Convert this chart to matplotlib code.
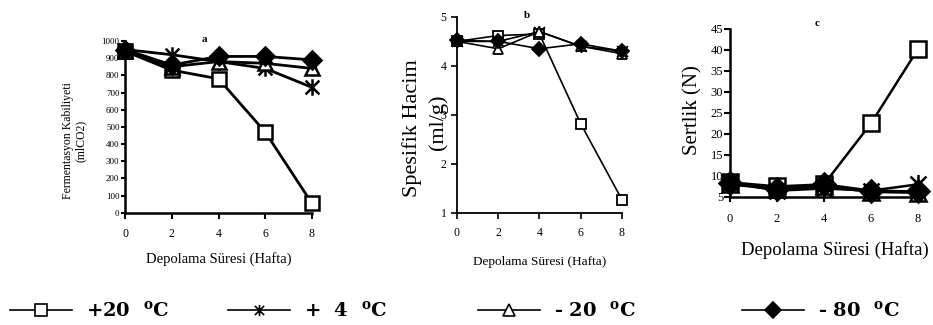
import numpy as np
import matplotlib
matplotlib.use("Agg")
import matplotlib.pyplot as plt
from matplotlib.path import Path
from matplotlib.lines import Line2D

plt.rcParams["font.family"] = ["Liberation Serif", "DejaVu Serif"]
plt.rcParams["mathtext.fontset"] = "custom"
plt.rcParams["mathtext.rm"] = "DejaVu Serif"
plt.rcParams["mathtext.bf"] = "DejaVu Serif:bold"

# --- data ---
weeks = [0, 2, 4, 6, 8]
labels = ["+20  $^{\\mathbf{o}}$C", "+  4  $^{\\mathbf{o}}$C", "- 20  $^{\\mathbf{o}}$C", "- 80  $^{\\mathbf{o}}$C"]

# a: Fermentasyon Kabiliyeti (mlCO2)
ferm_p20 = [940, 830, 780, 470, 55]
ferm_p4 = [950, 920, 880, 840, 730]
ferm_m20 = [940, 850, 880, 870, 840]
ferm_m80 = [950, 860, 910, 910, 890]

# b: Spesifik Hacim (ml/g)
hacim_p20 = [4.50, 4.62, 4.65, 2.82, 1.27]
hacim_p4 = [4.50, 4.50, 4.70, 4.40, 4.30]
hacim_m20 = [4.50, 4.35, 4.70, 4.40, 4.25]
hacim_m80 = [4.52, 4.50, 4.35, 4.45, 4.30]

# c: Sertlik (N)
sert_p20 = [8.5, 7.5, 8.0, 22.5, 40.2]
sert_p4 = [8.5, 6.5, 7.0, 6.5, 8.0]
sert_m20 = [8.0, 6.8, 7.5, 6.2, 6.0]
sert_m80 = [8.3, 7.0, 8.0, 6.5, 6.3]

# asterisk marker: X plus a vertical bar
star = Path([(-1, -1), (1, 1), (-1, 1), (1, -1), (0, -1.2), (0, 1.2)],
            [Path.MOVETO, Path.LINETO, Path.MOVETO, Path.LINETO, Path.MOVETO, Path.LINETO])

styles = [
    dict(marker="s", mfc="white", mec="black"),
    dict(marker=star, mfc="none", mec="black"),
    dict(marker="^", mfc="white", mec="black"),
    dict(marker="D", mfc="black", mec="black"),
]

fig = plt.figure(figsize=(9.33, 3.25), dpi=100)
ax_a = fig.add_axes([0.134, 0.345, 0.2004, 0.529])
ax_b = fig.add_axes([0.4898, 0.345, 0.1768, 0.603])
ax_c = fig.add_axes([0.7824, 0.394, 0.2015, 0.517])


def draw(ax, series, lw, ms, mew):
    for ys, st in zip(series, styles):
        size = ms * 1.25 if st["marker"] is star else ms
        ax.plot(weeks, ys, color="black", lw=lw, ms=size, mew=mew,
                clip_on=False, **st)
    for s in ["top", "right"]:
        ax.spines[s].set_visible(False)
    ax.set_xlim(0, 8)
    ax.set_xticks(weeks)


# --- panel a ---
draw(ax_a, [ferm_p20, ferm_p4, ferm_m20, ferm_m80], 2, 9.5, 1.8)
ax_a.set_ylim(0, 1000)
ax_a.set_yticks(np.arange(0, 1001, 100))
for s in ["left", "bottom"]:
    ax_a.spines[s].set_linewidth(1.8)
ax_a.tick_params(axis="y", labelsize=6.5, width=1.5, length=3, pad=1)
ax_a.tick_params(axis="x", labelsize=8.5, width=1.5, length=4, pad=7)
ax_a.text(-0.27, 0.42, "Fermentasyon Kabiliyeti\n(mlCO2)", transform=ax_a.transAxes,
          rotation=90, ha="center", va="center", fontsize=8.5, linespacing=1.1)
ax_a.set_xlabel("Depolama Süresi (Hafta)", fontsize=10.5)
ax_a.xaxis.set_label_coords(0.5, -0.27)
ax_a.xaxis.label.set_va("center")
fig.text(204 / 933, 1 - 39 / 325, "a", fontsize=8, fontweight="bold", ha="center", va="center")

# --- panel b ---
draw(ax_b, [hacim_p20, hacim_p4, hacim_m20, hacim_m80], 1.2, 7.5, 1.3)
ax_b.set_ylim(1, 5)
ax_b.set_yticks([1, 2, 3, 4, 5])
for s in ["left", "bottom"]:
    ax_b.spines[s].set_linewidth(1.3)
ax_b.tick_params(axis="both", labelsize=8.5, width=1.2, length=4)
ax_b.tick_params(axis="x", pad=6)
ax_b.text(-0.27, 0.43, "Spesifik Hacim", transform=ax_b.transAxes,
          rotation=90, ha="center", va="center", fontsize=16)
ax_b.text(-0.115, 0.46, "(ml/g)", transform=ax_b.transAxes,
          rotation=90, ha="center", va="center", fontsize=16)
ax_b.set_xlabel("Depolama Süresi (Hafta)", fontsize=9.5)
ax_b.xaxis.set_label_coords(0.5, -0.25)
ax_b.xaxis.label.set_va("center")
fig.text(527 / 933, 1 - 15 / 325, "b", fontsize=8, fontweight="bold", ha="center", va="center")

# --- panel c ---
draw(ax_c, [sert_p20, sert_p4, sert_m20, sert_m80], 1.8, 11, 1.8)
ax_c.set_ylim(5, 45)
ax_c.set_yticks(np.arange(5, 46, 5))
for s in ["left", "bottom"]:
    ax_c.spines[s].set_linewidth(1.8)
ax_c.tick_params(axis="y", labelsize=9, width=1.5, length=4, pad=1)
ax_c.tick_params(axis="x", labelsize=9, width=1.5, length=7, direction="inout", pad=8)
ax_c.text(-0.2, 0.52, "Sertlik (N)", transform=ax_c.transAxes,
          rotation=90, ha="center", va="center", fontsize=15)
ax_c.set_xlabel("Depolama Süresi (Hafta)", fontsize=13.5)
ax_c.xaxis.set_label_coords(0.56, -0.315)
ax_c.xaxis.label.set_va("center")
fig.text(817 / 933, 1 - 23 / 325, "c", fontsize=8, fontweight="bold", ha="center", va="center")

# --- legend: one entry per slot, like the original layout ---
slots = [10, 228, 478, 742]
for st, lab, x0 in zip(styles, labels, slots):
    h = Line2D([], [], color="black", lw=1.2, ms=8, mew=1.2, **st)
    fig.legend([h], [lab], loc="center left", bbox_to_anchor=(x0 / 933, 0.045),
               frameon=False, borderpad=0, borderaxespad=0, handlelength=3.2,
               handletextpad=0.7, prop=dict(family="DejaVu Serif", weight="bold", size=14))

fig.savefig("out.png", dpi=100)
